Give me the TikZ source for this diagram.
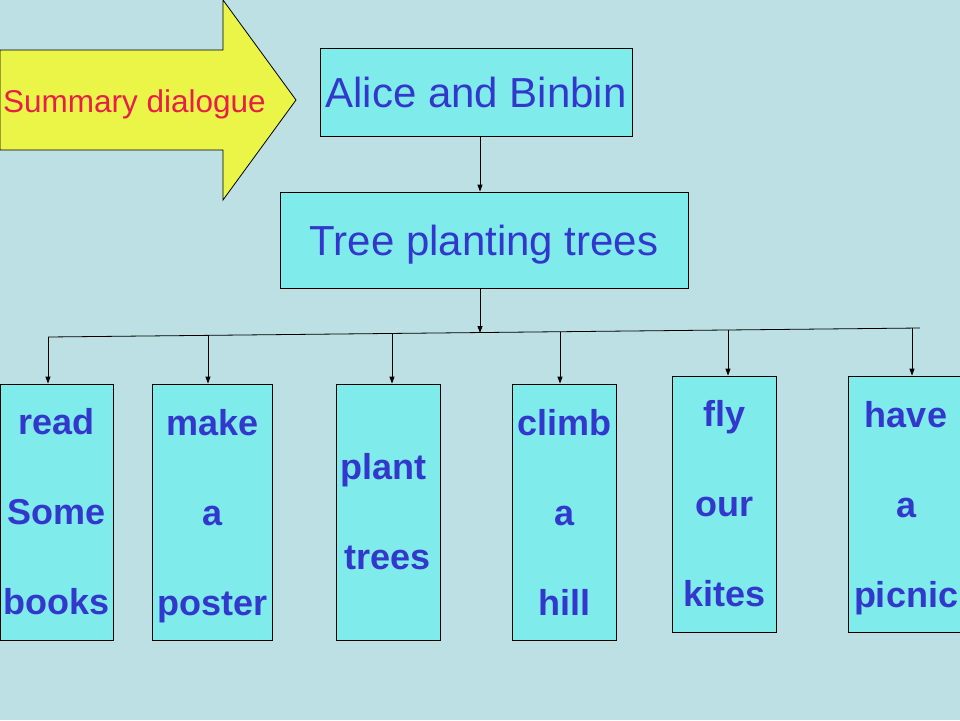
\documentclass[tikz,border=0pt]{standalone}
\usepackage{fontspec}
\setmainfont{Liberation Sans}
\usepackage{tikz}
\usetikzlibrary{arrows.meta, positioning, calc}
\definecolor{slide}{RGB}{188,224,228}
\definecolor{boxcyan}{RGB}{128,235,235}
\definecolor{inkblue}{RGB}{51,56,204}
\definecolor{signyellow}{RGB}{234,245,72}
\definecolor{signred}{RGB}{232,30,72}
\newcommand{\nodesc}[1]{\raisebox{0pt}[\height][0pt]{#1}}

\begin{document}
\begin{tikzpicture}[x=1pt, y=-1pt,
  box/.style={draw, line width=0.8pt, fill=boxcyan, inner sep=0pt, text depth=0pt, text=inkblue, font=\fontsize{42}{50}\selectfont},
  leaf/.style={draw, line width=0.8pt, fill=boxcyan, inner sep=0pt, text=inkblue, minimum height=256pt, align=center, font=\bfseries\fontsize{36}{90}\selectfont},
  link/.style={-{Triangle[length=7pt,width=5pt]}, line width=0.8pt}]
  \fill[slide] (0,0) rectangle (960,720);
  \useasboundingbox (0,0) rectangle (960,720);

  % banner arrow
  \filldraw[fill=signyellow, draw=black, line width=0.8pt] (0,50) -- (223,50) -- (223,0) -- (296,100) -- (223,200) -- (223,150) -- (0,150) -- cycle;
  \node[text=signred, inner sep=0pt, anchor=west, font=\fontsize{31.5}{36}\selectfont] (summary) at (3,104) {Summary dialogue};

  \node[box, minimum width=312pt, minimum height=88pt] (alice) at (476,92) {Alice and Binbin};
  \node[box, minimum width=408pt, minimum height=96pt] (tree) at (484,240) {Tree planting trees};

  \node[leaf, minimum width=113pt] (read) at (56.5,512) {read\\Some\\books};
  \node[leaf, minimum width=120pt] (poster) at (212.5,512) {make\\a\\\nodesc{poster}};
  \node[leaf, minimum width=104pt] (plant) at (388.5,512) {plant\kern10pt\\trees\kern2pt};
  \node[leaf, minimum width=104pt] (climb) at (564.5,512) {climb\\a\\hill};
  \node[leaf, minimum width=104pt] (fly) at (724.5,504) {fly\\our\\kites};
  \node[leaf, minimum width=116pt] (picnic) at (906,504) {have\\a\\\nodesc{picnic}};

  % bus line
  \coordinate (busL) at (48,337);
  \coordinate (busR) at (920,328);
  \coordinate (hub) at (480,333);
  \coordinate (d2) at (208,335.3);
  \coordinate (d3) at (392,333.4);
  \coordinate (d4) at (560,331.7);
  \coordinate (d5) at (728,330);
  \coordinate (d6) at (912,328.1);

  \draw[link] ([xshift=4pt]alice.south) -- ([xshift=4pt]alice.south |- tree.north);
  \draw[link] ([xshift=-4pt]tree.south) -- (hub);
  \draw[line width=0.8pt] (busL) -- (busR);
  \draw[link] (busL) -- (busL |- read.north);
  \draw[link] (d2) -- (d2 |- poster.north);
  \draw[link] (d3) -- (d3 |- plant.north);
  \draw[link] (d4) -- (d4 |- climb.north);
  \draw[link] (d5) -- (d5 |- fly.north);
  \draw[link] (d6) -- (d6 |- picnic.north);
\end{tikzpicture}
\end{document}
